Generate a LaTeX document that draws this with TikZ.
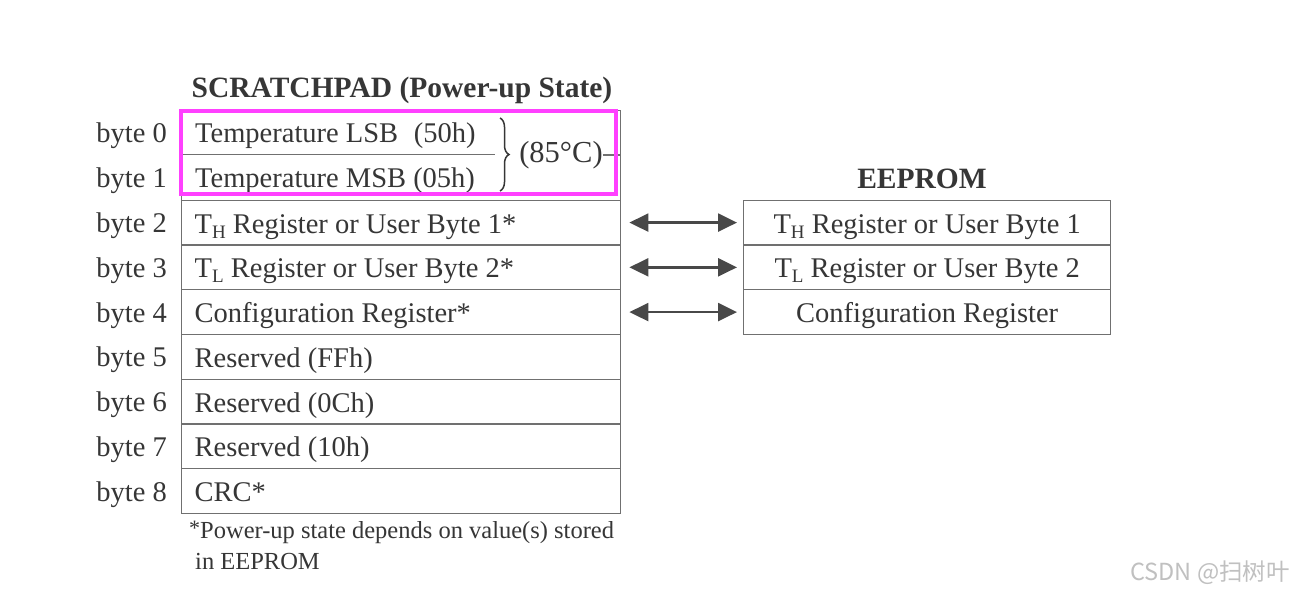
\documentclass[tikz,border=0pt]{standalone}
\usepackage{fontspec}
\setmainfont{Liberation Serif}
\newfontfamily\cjkfont{Noto Sans CJK SC}
\usetikzlibrary{arrows.meta,decorations.pathreplacing}
\definecolor{ink}{HTML}{363636}
\definecolor{rulec}{HTML}{707070}
\definecolor{mag}{HTML}{FF40FF}
\definecolor{arrc}{HTML}{484848}
\definecolor{wm}{HTML}{C0C0C0}
\newcommand{\lsub}[1]{\raisebox{-0.18em}{\fontsize{19}{19}\selectfont #1}}
\newcommand{\celltxt}[1]{\makebox[413pt][l]{#1}}
\begin{document}
\begin{tikzpicture}[x=1pt,y=-1pt,
  every node/.style={text=ink, font=\fontsize{28.5}{32}\selectfont},
  cell/.style={draw=rulec, line width=1.4pt, minimum width=439pt, minimum height=44.75pt,
    inner xsep=13pt, inner ysep=0pt, anchor=north west,
    text height=24.2pt, text depth=3.2pt},
  ecell/.style={draw=rulec, line width=1.4pt, minimum width=367pt, minimum height=44.75pt,
    inner sep=0pt, anchor=north west, text height=24.2pt, text depth=3.2pt},
  lbl/.style={anchor=base east, inner sep=0pt},
  ttl/.style={font=\bfseries\fontsize{29.5}{32}\selectfont, inner sep=0pt, anchor=base},
  arr/.style={{Triangle[length=19pt,width=18pt]}-{Triangle[length=19pt,width=18pt]}, draw=arrc, fill=arrc, line width=2.4pt},
  plain/.style={inner sep=0pt}
]
\useasboundingbox[fill=white] (0,0) rectangle (1294,595);

% titles
\node[ttl] (sptitle) at (402,97) {SCRATCHPAD (Power-up State)};
\node[ttl] (eetitle) at (922,188) {EEPROM};

% temperature block (bytes 0 and 1)
\node[draw=rulec, line width=1.4pt, minimum width=439pt, minimum height=89.5pt, inner sep=0pt, anchor=north west] (tempbox) at (181,110) {};
\draw[rulec, line width=1.4pt] (181,154.75) -- (495,154.75);
\node[plain, anchor=base west] (t0) at (195,142.5) {Temperature LSB\hspace{0.55em}(50h)};
\node[plain, anchor=base west] (t1) at (195,187.2) {Temperature MSB (05h)};
\draw[ink, line width=1.5pt, decorate, decoration={brace, amplitude=9pt}] (500,118) -- (500,191);
\node[plain, font=\fontsize{30.5}{32}\selectfont] (deg) at (561,155) {(85°C)};
\draw[rulec, line width=1.4pt] (deg.east) -- (tempbox.east |- deg.east);

% scratchpad rows 2..8
\node[cell] (r2) at (181,199.5) {\celltxt{T\lsub{H} Register or User Byte 1*}};
\node[cell] (r3) at (181,244.25) {\celltxt{T\lsub{L} Register or User Byte 2*}};
\node[cell] (r4) at (181,289) {\celltxt{Configuration Register*}};
\node[cell] (r5) at (181,333.75) {\celltxt{Reserved (FFh)}};
\node[cell] (r6) at (181,378.5) {\celltxt{Reserved (0Ch)}};
\node[cell] (r7) at (181,423.25) {\celltxt{Reserved (10h)}};
\node[cell] (r8) at (181,468) {\celltxt{CRC*}};

% magenta highlight
\draw[mag, line width=4pt] (180.5,111) rectangle (616,194);

% byte labels
\node[lbl] (b0) at (167,142.5) {byte 0};
\node[lbl] (b1) at (167,187.2) {byte 1};
\node[lbl] (b2) at ([xshift=-14pt,yshift=-10pt]r2.west) {byte 2};
\node[lbl] (b3) at ([xshift=-14pt,yshift=-10pt]r3.west) {byte 3};
\node[lbl] (b4) at ([xshift=-14pt,yshift=-10pt]r4.west) {byte 4};
\node[lbl] (b5) at ([xshift=-14pt,yshift=-10pt]r5.west) {byte 5};
\node[lbl] (b6) at ([xshift=-14pt,yshift=-10pt]r6.west) {byte 6};
\node[lbl] (b7) at ([xshift=-14pt,yshift=-10pt]r7.west) {byte 7};
\node[lbl] (b8) at ([xshift=-14pt,yshift=-10pt]r8.west) {byte 8};

% EEPROM rows
\node[ecell] (e2) at (743,199.5) {T\lsub{H} Register or User Byte 1};
\node[ecell] (e3) at (743,244.25) {T\lsub{L} Register or User Byte 2};
\node[ecell] (e4) at (743,289) {Configuration Register};

% arrows
\draw[arr] ([xshift=8pt]r2.east) -- ([xshift=-6pt]e2.west);
\draw[arr] ([xshift=8pt]r3.east) -- ([xshift=-6pt]e3.west);
\draw[arr] ([xshift=8pt]r4.east) -- ([xshift=-6pt]e4.west);

% footnote
\node[plain, anchor=west, font=\fontsize{24.5}{29}\selectfont] (fn1) at (189,532.5) {\raisebox{0.12em}{\fontsize{22}{22}\selectfont *}Power-up state depends on value(s) stored};
\node[plain, anchor=west, font=\fontsize{24.5}{29}\selectfont] (fn2) at (195,561.5) {in EEPROM};

% watermark
\node[plain, anchor=east, text=wm, font=\fontsize{23.5}{25}\cjkfont] (wmk) at (1290,573) {CSDN @扫树叶};
\end{tikzpicture}
\end{document}
